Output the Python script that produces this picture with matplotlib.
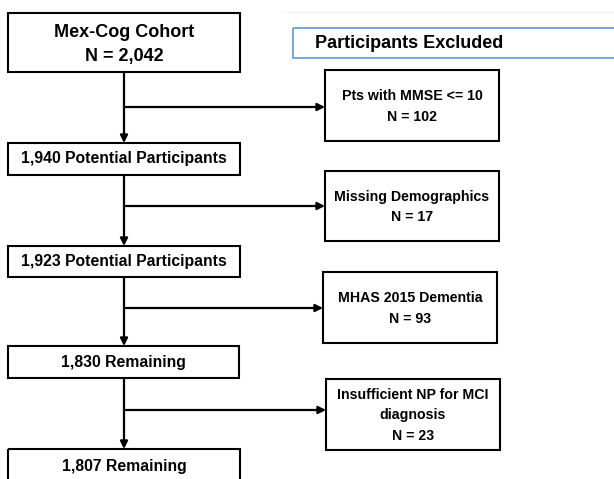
import matplotlib.pyplot as plt
from matplotlib.patches import Rectangle, FancyArrowPatch

plt.rcParams['font.family'] = ['Liberation Sans', 'DejaVu Sans']

# flow chart text
main_labels = ["Mex-Cog Cohort\nN = 2,042",
               "1,940 Potential Participants",
               "1,923 Potential Participants",
               "1,830 Remaining",
               "1,807 Remaining"]
excluded_labels = ["Pts with MMSE <= 10\nN = 102",
                   "Missing Demographics\nN = 17",
                   "MHAS 2015 Dementia\nN = 93",
                   "Insufficient NP for MCI\ndiagnosis\nN = 23"]
header_label = "Participants Excluded"

# layout in pixels (x0, y0, x1, y1), y measured from the top
main_boxes = [(8, 13, 240, 72), (8, 143, 240, 175), (8, 246, 240, 277),
              (8, 346, 239, 378), (8, 449, 240, 495)]
excl_boxes = [(325, 70, 499, 141), (325, 171, 499, 241),
              (323, 272, 497, 343), (326, 379, 500, 450)]
header_box = (293, 28, 640, 58)
branch_y = [107, 206, 308, 410]
spine_x = 124

fig = plt.figure(figsize=(6.14, 4.79), dpi=100)
ax = fig.add_axes([0, 0, 1, 1])
ax.set_xlim(0, 614)
ax.set_ylim(479, 0)
ax.axis('off')


def box(b, color='black', lw=1.5):
    x0, y0, x1, y1 = b
    ax.add_patch(Rectangle((x0, y0), x1 - x0, y1 - y0, fill=False,
                           edgecolor=color, linewidth=lw))


def arrow(p0, p1):
    ax.add_patch(FancyArrowPatch(p0, p1, arrowstyle='-|>', mutation_scale=11,
                                 linewidth=1.6, color='black',
                                 shrinkA=0, shrinkB=0))


# faint top rule
ax.plot([282, 614], [12, 12], color='#f2f2f2', linewidth=0.8)

for i, (b, lab) in enumerate(zip(main_boxes, main_labels)):
    box(b)
    fs = 13 if i == 0 else 11.3
    ls = 1.6 if i == 0 else 1.45
    if i == 0:
        yc = (b[1] + b[3]) / 2 + 2
    elif i < 4:
        yc = (b[1] + b[3]) / 2
    else:
        yc = 466
    ax.text((b[0] + b[2]) / 2, yc, lab, ha='center', va='center',
            fontsize=fs, fontweight='bold', linespacing=ls)

for b, lab in zip(excl_boxes, excluded_labels):
    box(b)
    ax.text((b[0] + b[2]) / 2, (b[1] + b[3]) / 2 + 1, lab, ha='center',
            va='center', fontsize=10.2, fontweight='bold', linespacing=1.55)

box(header_box, color='#5b9bd5', lw=1.2)
ax.text(409, 43, header_label, ha='center', va='center', fontsize=13,
        fontweight='bold')

# spine arrows between main boxes
for i in range(4):
    arrow((spine_x, main_boxes[i][3]), (spine_x, main_boxes[i + 1][1]))

# branch arrows to exclusion boxes
for y, b in zip(branch_y, excl_boxes):
    arrow((spine_x, y), (b[0], y))

fig.savefig('out.png', dpi=100)
